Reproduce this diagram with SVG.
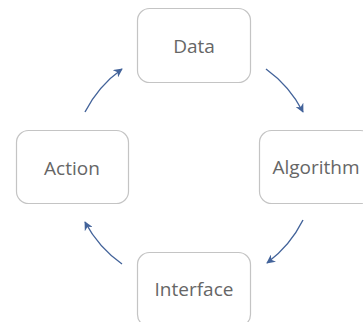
<svg xmlns="http://www.w3.org/2000/svg" width="363" height="322" viewBox="0 0 363 322">
  <style>
    .box { fill: #ffffff; stroke: #c4c4c4; stroke-width: 1.2; }
    .label { font-family: "Open Sans", "Liberation Sans", sans-serif; font-size: 19px; fill: #666666; text-anchor: middle; }
    .flow { fill: none; stroke: #43639a; stroke-width: 1.4; marker-end: url(#head); }
  </style>
  <defs>
    <marker id="head" viewBox="0 0 10 10" refX="9" refY="5" markerWidth="9" markerHeight="9" markerUnits="userSpaceOnUse" orient="auto">
      <path d="M0,0 L10,5 L0,10 L3,5 Z" fill="#43639a"/>
    </marker>
  </defs>
  <rect width="363" height="322" fill="#ffffff"/>

  <!-- cycle connectors: arcs on a shared circle around the centre -->
  <g id="connectors">
    <path class="flow" d="M85,112 A121,121 0 0 1 122,69"/>
    <path class="flow" d="M266,69 A121,121 0 0 1 303,112"/>
    <path class="flow" d="M303,220 A121,121 0 0 1 267,263"/>
    <path class="flow" d="M122,264 A121,121 0 0 1 85,222"/>
  </g>

  <g id="data">
    <rect class="box" x="137.5" y="8.5" width="113" height="74" rx="12"/>
    <text class="label" x="194" y="53">Data</text>
  </g>
  <g id="algorithm">
    <rect class="box" x="259.5" y="130.5" width="113" height="73" rx="12"/>
    <text class="label" x="316" y="174">Algorithm</text>
  </g>
  <g id="interface">
    <rect class="box" x="137.5" y="252.5" width="113" height="74" rx="12"/>
    <text class="label" x="194" y="296">Interface</text>
  </g>
  <g id="action">
    <rect class="box" x="16.5" y="130.5" width="112" height="73" rx="12"/>
    <text class="label" x="72" y="175">Action</text>
  </g>
</svg>
